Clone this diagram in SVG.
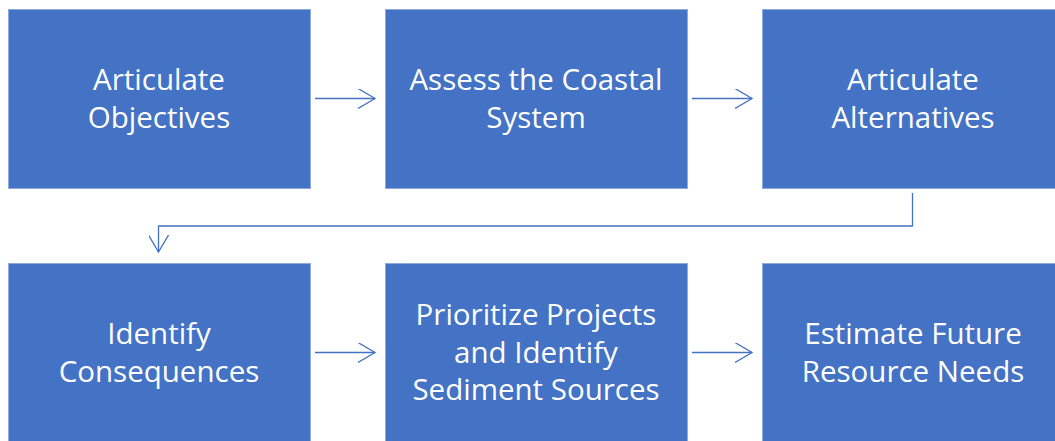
<svg xmlns="http://www.w3.org/2000/svg" width="1055" height="441" viewBox="0 0 1055 441">
<style>
.box{fill:#4472C4;stroke:#8FAADC;stroke-width:1}
.t{font-family:"Open Sans","Liberation Sans",sans-serif;font-size:29.5px;fill:#FFFFFF;text-anchor:middle}
.c{fill:none;stroke:#4472C4;stroke-width:1.3}
</style>
<defs>
<marker id="ah" markerWidth="20" markerHeight="20" refX="17" refY="10" orient="auto" markerUnits="userSpaceOnUse">
<path d="M0,0 L17,10 L0,20" fill="none" stroke="#4472C4" stroke-width="1.3"/>
</marker>
</defs>
<rect width="1055" height="441" fill="#FFFFFF"/>
<g id="n1"><rect class="box" x="8.5" y="9.5" width="302" height="179"/><text class="t" x="159" y="90">Articulate</text><text class="t" x="159" y="128">Objectives</text></g>
<g id="n2"><rect class="box" x="385.5" y="9.5" width="302" height="179"/><text class="t" x="536" y="90">Assess the Coastal</text><text class="t" x="536" y="128">System</text></g>
<g id="n3"><rect class="box" x="762.5" y="9.5" width="302" height="179"/><text class="t" x="913" y="90">Articulate</text><text class="t" x="913" y="128">Alternatives</text></g>
<g id="n4"><rect class="box" x="8.5" y="263.5" width="302" height="179"/><text class="t" x="159" y="344">Identify</text><text class="t" x="159" y="382">Consequences</text></g>
<g id="n5"><rect class="box" x="385.5" y="263.5" width="302" height="179"/><text class="t" x="536" y="325">Prioritize Projects</text><text class="t" x="536" y="363">and Identify</text><text class="t" x="536" y="400">Sediment Sources</text></g>
<g id="n6"><rect class="box" x="762.5" y="263.5" width="302" height="179"/><text class="t" x="913" y="344">Estimate Future</text><text class="t" x="913" y="382">Resource Needs</text></g>
<g id="connectors">
<path class="c" d="M315,98.5 H375" marker-end="url(#ah)"/>
<path class="c" d="M692,98.5 H752" marker-end="url(#ah)"/>
<path class="c" d="M315,352.5 H375" marker-end="url(#ah)"/>
<path class="c" d="M692,352.5 H752" marker-end="url(#ah)"/>
<path class="c" d="M912.5,193 V226 H158.5 V252" marker-end="url(#ah)"/>
</g>
</svg>
